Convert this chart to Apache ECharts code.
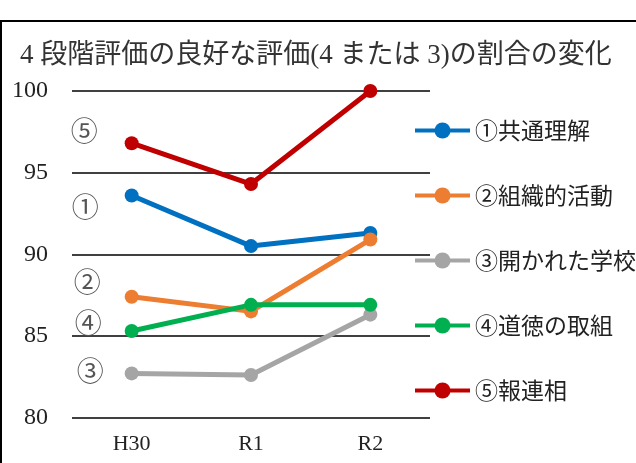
<!DOCTYPE html>
<html>
<head>
<meta charset="utf-8">
<script src="https://cdn.jsdelivr.net/npm/echarts@6/dist/echarts.min.js"></script>
<style>
    html, body { margin: 0; padding: 0; background: #fff; }
    #chart { width: 636px; height: 463px; }
</style>
</head>
<body>
<div id="chart"></div>
<script>
// データ
var categories = ['H30', 'R1', 'R2'];
var seriesNames = ['①共通理解', '②組織的活動', '③開かれた学校', '④道徳の取組', '⑤報連相'];
var shortNames = ['①', '②', '③', '④', '⑤'];
var kyotsuRikai = [93.6, 90.5, 91.3];
var soshikiKatsudo = [87.4, 86.5, 90.9];
var hirakaretaGakko = [82.7, 82.6, 86.3];
var dotokuTorikumi = [85.3, 86.9, 86.9];
var hourenso = [96.8, 94.3, 100];
var yTicks = [80, 85, 90, 95, 100];

var colors = ['#0070C0', '#ED7D31', '#A5A5A5', '#00B050', '#C00000'];
// 左側の丸数字の位置ずれ
var labelOffsets = [[3, 11], [5, -15], [8, -3], [6, -8], [2, -13]];

var serif = '"Liberation Serif", "Noto Sans CJK JP", serif';
var sans = '"Noto Sans CJK JP", sans-serif';

var chart = document.getElementById('chart');
var myChart = echarts.init(chart);

function buildSeries(idx, values) {
    var data = [];
    for (var i = 0; i < values.length; i++) {
        if (i == 0) {
            data.push({
                value: values[i],
                label: {
                    show: true,
                    position: 'left',
                    distance: 29,
                    offset: labelOffsets[idx],
                    formatter: shortNames[idx],
                    fontFamily: sans,
                    fontSize: 27,
                    color: '#555'
                }
            });
        } else {
            data.push(values[i]);
        }
    }
    return {
        name: seriesNames[idx],
        type: 'line',
        symbol: 'circle',
        symbolSize: 14,
        lineStyle: { width: 5, color: colors[idx] },
        itemStyle: { color: colors[idx] },
        emphasis: { disabled: true },
        data: data
    };
}

var option = {
    animation: false,
    backgroundColor: '#fff',
    title: {
        text: '4 段階評価の良好な評価(4 または 3)の割合の変化',
        left: 15,
        top: 37,
        textStyle: {
            fontFamily: serif,
            fontSize: 27,
            fontWeight: 'normal',
            color: '#333'
        }
    },
    graphic: [{
        type: 'rect',
        shape: { x: 1, y: 21, width: 700, height: 500 },
        style: { fill: 'none', stroke: '#000', lineWidth: 2 },
        silent: true
    }],
    legend: {
        orient: 'vertical',
        left: 413,
        top: 119,
        padding: 0,
        itemWidth: 55,
        itemHeight: 20,
        itemGap: 42,
        data: seriesNames,
        lineStyle: { width: 4 },
        textStyle: {
            fontFamily: sans,
            fontSize: 23,
            color: '#222'
        }
    },
    grid: {
        left: 72,
        right: 206,
        top: 91,
        bottom: 45.5
    },
    xAxis: {
        type: 'category',
        data: categories,
        boundaryGap: true,
        axisLine: { show: false },
        axisTick: { show: false },
        axisLabel: {
            margin: 16,
            fontFamily: serif,
            fontSize: 22,
            color: '#222'
        }
    },
    yAxis: {
        type: 'value',
        min: yTicks[0],
        max: yTicks[yTicks.length - 1],
        interval: 5,
        axisLine: { show: false },
        axisTick: { show: false },
        splitLine: { lineStyle: { color: '#000', width: 1.5 } },
        axisLabel: {
            margin: 24,
            fontFamily: serif,
            fontSize: 24,
            color: '#222'
        }
    },
    series: [
        buildSeries(0, kyotsuRikai),
        buildSeries(1, soshikiKatsudo),
        buildSeries(2, hirakaretaGakko),
        buildSeries(3, dotokuTorikumi),
        buildSeries(4, hourenso)
    ]
};

myChart.setOption(option);
</script>
</body>
</html>
